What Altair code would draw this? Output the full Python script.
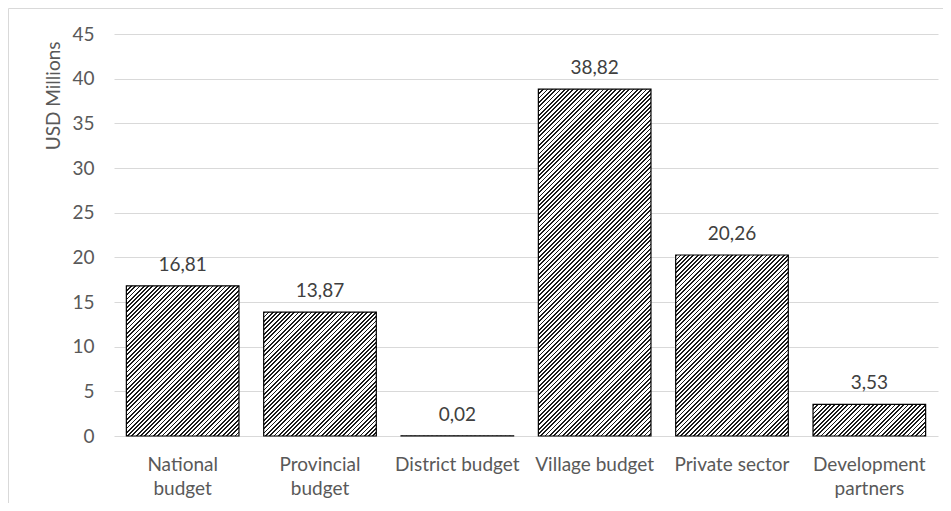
import altair as alt
import pandas as pd

categories = ["National budget", "Provincial budget", "District budget",
              "Village budget", "Private sector", "Development partners"]
values = [16.81, 13.87, 0.02, 38.82, 20.26, 3.53]
y_ticks = [0, 5, 10, 15, 20, 25, 30, 35, 40, 45]
two_line = ["National budget", "Provincial budget", "Development partners"]

W, H, YMAX = 824, 402, 45
PI, PO = 0.18, 0.09
FONT = "Lato"
FS = 19
step = W / (len(categories) - PI + 2 * PO)
BW = step * (1 - PI)
PERIOD, DARK = 4.3, 0.42


def hatch(h):
    w = BW
    L = w + h
    k = L / (w * w + h * h)
    stops = []
    i = 0
    while True:
        a = i * PERIOD / L
        b = min((i * PERIOD + PERIOD * DARK) / L, 1)
        c = min((i + 1) * PERIOD / L, 1)
        stops += [{"offset": a, "color": "#1a1a1a"}, {"offset": b, "color": "#1a1a1a"},
                  {"offset": b, "color": "#ffffff"}, {"offset": c, "color": "#ffffff"}]
        if c >= 1:
            break
        i += 1
    return {"gradient": "linear", "x1": 0, "y1": 0, "x2": w * k, "y2": h * k, "stops": stops}


df = pd.DataFrame({
    "category": categories,
    "value": values,
    "label": [f"{v:.2f}".replace(".", ",") for v in values],
})

label_expr = ("indexof([" + ",".join(f"'{c}'" for c in two_line) +
              "], datum.value) >= 0 ? split(datum.value, ' ') : datum.value")

x = alt.X("category:N",
          scale=alt.Scale(domain=categories, paddingInner=PI, paddingOuter=PO),
          axis=alt.Axis(title=None, labelAngle=0, ticks=False, domain=False, grid=False,
                        labelExpr=label_expr, labelPadding=19, labelLineHeight=24,
                        labelFontSize=FS, labelFont=FONT, labelColor="#595959"))
y = alt.Y("value:Q",
          scale=alt.Scale(domain=[0, YMAX], nice=False),
          axis=alt.Axis(values=y_ticks, title="USD Millions", domain=False, ticks=False,
                        grid=True, gridColor="#d9d9d9", labelPadding=20,
                        labelFontSize=FS, labelFont=FONT, labelColor="#595959",
                        titleFontSize=FS, titleFont=FONT, titleFontWeight="normal",
                        titleColor="#595959", titleAngle=270, titleAlign="right",
                        titleBaseline="middle", titleX=-61, titleY=7))

layers = []
for i, v in enumerate(values):
    h = v * H / YMAX
    layers.append(
        alt.Chart(df.iloc[[i]]).mark_bar(fill=hatch(h), stroke="#000000", strokeWidth=1.2)
        .encode(x=x, y=y)
    )

text = alt.Chart(df).mark_text(baseline="alphabetic", dy=-15, fontSize=FS, font=FONT,
                               color="#404040").encode(x=x, y=y, text="label:N")

border_left = alt.Chart(df.iloc[[0]]).mark_rule(color="#d9d9d9", strokeWidth=1).encode(
    x=alt.value(-105.5), y=alt.value(-25.5), y2=alt.value(H + 68))
border_top = alt.Chart(df.iloc[[0]]).mark_rule(color="#d9d9d9", strokeWidth=1).encode(
    x=alt.value(-105.5), x2=alt.value(W + 6), y=alt.value(-25.5))

chart = alt.layer(*layers, text, border_left, border_top).properties(
    width=W, height=H,
    autosize=alt.AutoSizeParams(type="none"),
    padding={"left": 106, "top": 26, "right": 5, "bottom": 67},
).configure_view(stroke=None)

chart.save("out.html", embed_options={"renderer": "svg", "actions": False})
